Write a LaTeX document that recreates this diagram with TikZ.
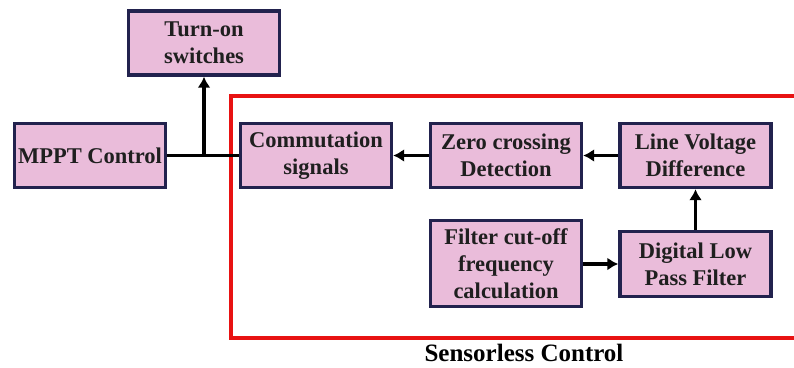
\documentclass[tikz,border=0pt]{standalone}
\usepackage{fontspec}
\setmainfont{Liberation Serif}
\usetikzlibrary{arrows.meta}

\definecolor{blkfill}{RGB}{234,188,218}
\definecolor{blkline}{RGB}{34,34,78}
\definecolor{frame}{RGB}{232,18,18}

\begin{document}
\begin{tikzpicture}[x=1pt,y=-1pt,
    blk/.style={draw=blkline, fill=blkfill, line width=3.4pt, align=center,
        minimum width=151pt, minimum height=64pt, inner sep=2pt,
        text=black!88, font=\bfseries\fontsize{22.5}{27}\selectfont},
    link/.style={line width=3.4pt, -{Latex[length=11pt,width=13pt]}}]
    \useasboundingbox (0,0) rectangle (794,367);
    % sensorless control frame
    \draw[frame, line width=3.2pt] (794,96) -| (231,338) -- (794,338);
    \node[font=\bfseries\fontsize{25}{30}\selectfont] (lbl) at (524,353) {Sensorless Control};
    % blocks
    \node[blk] (turnon) at (204,43) {Turn-on\\switches};
    \node[blk] (mppt) at (90,155.5) {MPPT Control};
    \node[blk] (comm) at (316,155.5) {Commutation\\signals};
    \node[blk] (zcd) at (506,155.5) {Zero crossing\\Detection};
    \node[blk] (lvd) at (695.5,155.5) {Line Voltage\\Difference};
    \node[blk, minimum height=86pt] (fco) at (506,263.5) {Filter cut-off\\frequency\\calculation};
    \node[blk, minimum height=65pt] (lpf) at (695.5,264) {Digital Low\\Pass Filter};
    % connectors
    \coordinate (jn) at (204,155.5);
    \draw[line width=3.4pt] (mppt.east) -- (comm.west);
    \draw[link] (jn) -- (turnon.south);
    \draw[link] (zcd) -- (comm);
    \draw[link] (lvd) -- (zcd);
    \draw[link] (lpf) -- (lvd);
    \draw[link] (fco.east |- lpf) -- (lpf.west);
\end{tikzpicture}
\end{document}
